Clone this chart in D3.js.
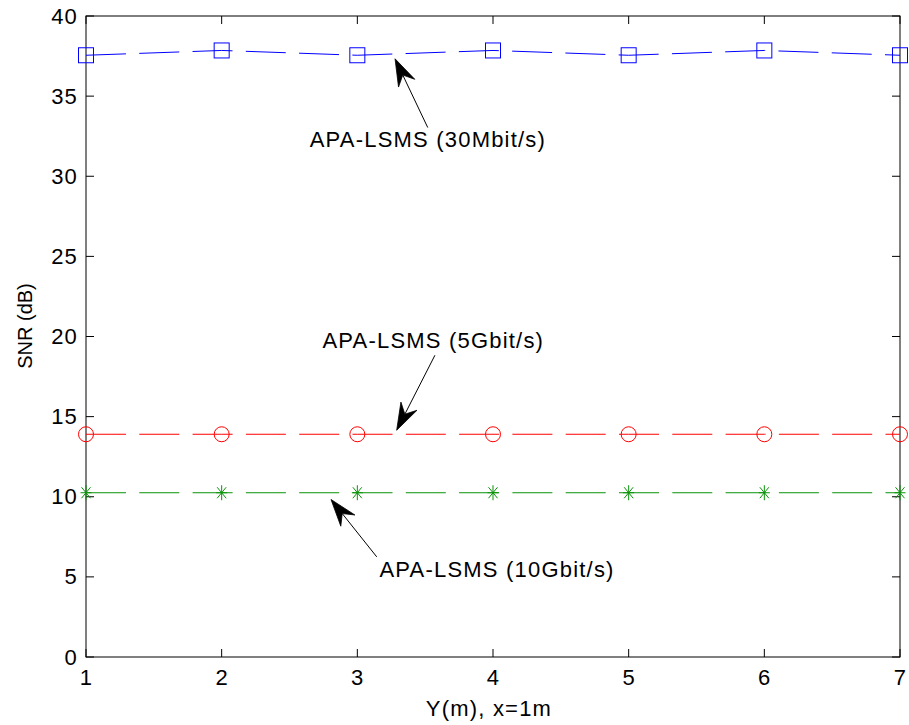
<!DOCTYPE html>
<html>
<head>
<meta charset="utf-8">
<script src="https://cdn.jsdelivr.net/npm/d3@7/dist/d3.min.js"></script>
<style>
  html, body { margin: 0; padding: 0; background: #fff; }
  text { font-family: "Liberation Sans", Arial, sans-serif; fill: #000; }
</style>
</head>
<body>
<svg id="chart" width="909" height="725"></svg>
<script>
// Receiver position along Y (m), with x fixed at 1 m
const positions = [1, 2, 3, 4, 5, 6, 7];

// SNR (dB) for each data rate
const snr30M = [37.55, 37.85, 37.55, 37.85, 37.55, 37.85, 37.55];
const snr5G  = [13.9, 13.9, 13.9, 13.9, 13.9, 13.9, 13.9];
const snr10G = [10.25, 10.25, 10.25, 10.25, 10.25, 10.25, 10.25];

const xTicks = [1, 2, 3, 4, 5, 6, 7];
const yTicks = [0, 5, 10, 15, 20, 25, 30, 35, 40];

// Callout labels: text position and arrow (tail -> tip), in data units
const callouts = [
  { text: "APA-LSMS (30Mbit/s)", tx: 3.52, ty: 31.8,  x1: 3.519, y1: 33.04, x2: 3.278, y2: 37.33 },
  { text: "APA-LSMS (5Gbit/s)",  tx: 3.56, ty: 19.26, x1: 3.572, y1: 18.83, x2: 3.29,  y2: 14.15 },
  { text: "APA-LSMS (10Gbit/s)", tx: 4.03, ty: 5.0,   x1: 3.143, y1: 6.25,  x2: 2.806, y2: 9.83 }
];

const svg = d3.select("#chart");
const margin = { left: 86, right: 9, top: 16, bottom: 68 };
const W = 909, H = 725;
const pw = W - margin.left - margin.right;
const ph = H - margin.top - margin.bottom;

const x = d3.scaleLinear().domain([1, 7]).range([margin.left, margin.left + pw]);
const y = d3.scaleLinear().domain([0, 40]).range([margin.top + ph, margin.top]);

const FONT = 22, SPACING = 1.2, TICK = 8;

// Axes: labels on bottom/left, inward ticks on all four sides
const axB = d3.axisBottom(x).tickValues(xTicks).tickSize(0).tickPadding(12).tickFormat(d3.format("d"));
const axL = d3.axisLeft(y).tickValues(yTicks).tickSize(0).tickPadding(8).tickFormat(d3.format("d"));

const gB = svg.append("g").attr("transform", `translate(0,${y(0)})`).call(axB);
const gL = svg.append("g").attr("transform", `translate(${x(1)},0)`).call(axL);
[gB, gL].forEach(g => {
  g.select(".domain").remove();
  g.selectAll("text").attr("font-size", FONT).attr("letter-spacing", SPACING)
    .attr("font-family", "Liberation Sans, Arial, sans-serif").attr("fill", "#000");
});
gB.selectAll("text").attr("dy", "0.71em");

const ticks = svg.append("g").attr("stroke", "#000").attr("stroke-width", 1);
xTicks.forEach(t => {
  ticks.append("line").attr("x1", x(t)).attr("x2", x(t)).attr("y1", y(0)).attr("y2", y(0) - TICK);
  ticks.append("line").attr("x1", x(t)).attr("x2", x(t)).attr("y1", y(40)).attr("y2", y(40) + TICK);
});
yTicks.forEach(t => {
  ticks.append("line").attr("x1", x(1)).attr("x2", x(1) + TICK).attr("y1", y(t)).attr("y2", y(t));
  ticks.append("line").attr("x1", x(7)).attr("x2", x(7) - TICK).attr("y1", y(t)).attr("y2", y(t));
});

// Plot box
svg.append("rect")
  .attr("x", x(1)).attr("y", y(40)).attr("width", x(7) - x(1)).attr("height", y(0) - y(40))
  .attr("fill", "none").attr("stroke", "#000").attr("stroke-width", 1);

// Series lines (dashed)
const line = d3.line().x((d, i) => x(positions[i])).y(d => y(d));
const series = [
  { values: snr30M, color: "#0000ff", marker: "square" },
  { values: snr5G,  color: "#ff0000", marker: "circle" },
  { values: snr10G, color: "#0a930a", marker: "star" }
];

series.forEach(s => {
  svg.append("path").datum(s.values)
    .attr("d", line)
    .attr("fill", "none").attr("stroke", s.color).attr("stroke-width", 1)
    .attr("stroke-dasharray", "40,13.3");

  const g = svg.append("g").attr("stroke", s.color).attr("fill", "none").attr("stroke-width", 1);
  s.values.forEach((v, i) => {
    const cx = x(positions[i]), cy = y(v);
    if (s.marker === "square") {
      g.append("rect").attr("x", cx - 7.5).attr("y", cy - 7.5).attr("width", 15).attr("height", 15);
    } else if (s.marker === "circle") {
      g.append("circle").attr("cx", cx).attr("cy", cy).attr("r", 7.5);
    } else {
      const a = 5.5, b = 7.5, c = 4.5, e = 5.5;
      g.append("path").attr("d",
        `M${cx - a},${cy}L${cx + a},${cy}M${cx},${cy - b}L${cx},${cy + b}` +
        `M${cx - c},${cy - e}L${cx + c},${cy + e}M${cx - c},${cy + e}L${cx + c},${cy - e}`);
    }
  });
});

// Callout arrows and labels
const ann = svg.append("g");
callouts.forEach(c => {
  const X1 = x(c.x1), Y1 = y(c.y1), X2 = x(c.x2), Y2 = y(c.y2);
  const dx = X2 - X1, dy = Y2 - Y1, len = Math.hypot(dx, dy);
  const ux = dx / len, uy = dy / len, nx = -uy, ny = ux;
  const L = 27, Wd = 9, notch = 9;
  const bx = X2 - L * ux, by = Y2 - L * uy;
  const mx = X2 - (L - notch) * ux, my = Y2 - (L - notch) * uy;
  ann.append("line").attr("x1", X1).attr("y1", Y1).attr("x2", mx).attr("y2", my)
    .attr("stroke", "#000").attr("stroke-width", 1);
  ann.append("path")
    .attr("d", `M${X2},${Y2}L${bx + Wd * nx},${by + Wd * ny}L${mx},${my}L${bx - Wd * nx},${by - Wd * ny}Z`)
    .attr("fill", "#000").attr("stroke", "#000").attr("stroke-width", 0.8);
  ann.append("text").attr("x", x(c.tx)).attr("y", y(c.ty))
    .attr("text-anchor", "middle").attr("font-size", FONT).attr("letter-spacing", SPACING)
    .text(c.text);
});

// Axis titles
svg.append("text").attr("x", 489).attr("y", 716).attr("text-anchor", "middle")
  .attr("font-size", FONT).attr("letter-spacing", SPACING).text("Y(m), x=1m");
svg.append("text").attr("transform", "translate(32,326) rotate(-90)").attr("text-anchor", "middle")
  .attr("font-size", 20).text("SNR (dB)");
</script>
</body>
</html>
